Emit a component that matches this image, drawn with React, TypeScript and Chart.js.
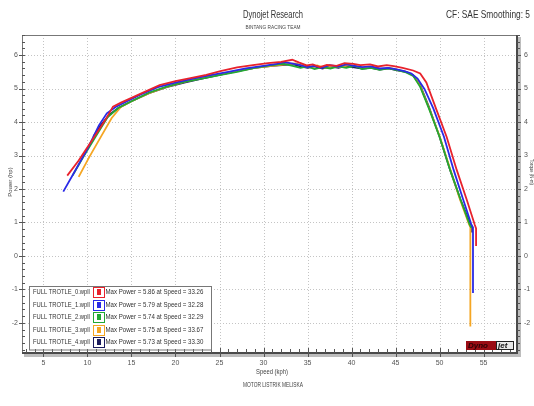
import { useEffect, useRef } from "react";
import { Chart, registerables } from "chart.js";

Chart.register(...registerables);

const FONT = '"Liberation Sans", "DejaVu Sans", sans-serif';

const seriesNames = [
  "FULL TROTLE_0.wpll",
  "FULL TROTLE_1.wpll",
  "FULL TROTLE_2.wpll",
  "FULL TROTLE_3.wpll",
  "FULL TROTLE_4.wpll",
];
const seriesColors = ["#e8222c", "#2a2ae6", "#22a833", "#f5a623", "#1c1c5e"];
const maxPower = [5.86, 5.79, 5.74, 5.75, 5.73];
const maxSpeed = [33.26, 32.28, 32.29, 33.67, 33.3];

const xTicks = [5, 10, 15, 20, 25, 30, 35, 40, 45, 50, 55];
const yTicks = [-2, -1, 0, 1, 2, 3, 4, 5, 6];

const speed0 = [7.7, 9.0, 10.5, 12.0, 12.9, 13.8, 15.0, 16.5, 18.2, 20.0, 21.7, 23.5, 25.1, 27.0, 28.8, 30.5, 32.0, 33.26, 34.0, 34.9, 35.6, 36.4, 37.2, 38.3, 39.2, 40.2, 41.0, 42.1, 43.0, 44.0, 44.8, 45.8, 47.0, 47.8, 48.5, 49.6, 50.8, 51.95, 53.1, 54.0, 54.15, 54.15];
const power0 = [2.4, 2.85, 3.45, 4.05, 4.46, 4.58, 4.72, 4.9, 5.1, 5.22, 5.31, 5.41, 5.52, 5.63, 5.7, 5.76, 5.8, 5.86, 5.78, 5.69, 5.72, 5.64, 5.71, 5.68, 5.76, 5.74, 5.7, 5.72, 5.66, 5.7, 5.67, 5.62, 5.54, 5.45, 5.18, 4.4, 3.56, 2.57, 1.67, 0.93, 0.82, 0.3];

const speed1 = [7.25, 8.5, 10.0, 11.3, 12.2, 13.2, 14.5, 16.0, 18.0, 20.0, 22.0, 24.0, 26.0, 28.0, 30.0, 31.5, 32.28, 33.2, 34.2, 35.0, 35.8, 36.6, 37.5, 38.5, 39.4, 40.3, 41.2, 42.2, 43.2, 44.2, 45.0, 46.0, 46.8, 47.5, 48.3, 49.3, 50.5, 51.6, 52.7, 53.6, 53.8, 53.8];
const power1 = [1.92, 2.5, 3.2, 3.9, 4.26, 4.45, 4.62, 4.82, 5.04, 5.18, 5.3, 5.4, 5.5, 5.6, 5.68, 5.74, 5.79, 5.75, 5.7, 5.64, 5.68, 5.62, 5.7, 5.66, 5.72, 5.68, 5.64, 5.66, 5.6, 5.62, 5.58, 5.52, 5.45, 5.3, 4.98, 4.4, 3.56, 2.57, 1.67, 0.95, 0.85, -1.11];

const speed2 = [8.3, 9.5, 11.0, 12.3, 13.5, 15.0, 17.0, 19.0, 21.0, 23.0, 25.0, 27.0, 29.0, 30.8, 32.29, 33.3, 34.2, 35.0, 35.8, 36.7, 37.6, 38.5, 39.4, 40.3, 41.2, 42.2, 43.2, 44.2, 45.2, 46.2, 47.0, 47.8, 48.8, 50.0, 51.2, 52.4, 53.4, 53.6];
const power2 = [2.4, 2.95, 3.6, 4.15, 4.42, 4.62, 4.88, 5.06, 5.2, 5.3, 5.4, 5.5, 5.62, 5.69, 5.74, 5.68, 5.62, 5.66, 5.58, 5.64, 5.6, 5.66, 5.62, 5.68, 5.58, 5.62, 5.56, 5.6, 5.55, 5.48, 5.38, 5.05, 4.4, 3.56, 2.57, 1.67, 0.95, 0.84];

const speed3 = [9.0, 10.2, 11.5, 12.75, 13.8, 15.0, 17.0, 19.0, 21.0, 23.0, 25.0, 27.0, 29.0, 31.0, 32.5, 33.67, 34.5, 35.3, 36.1, 37.0, 37.9, 38.8, 39.7, 40.6, 41.5, 42.4, 43.3, 44.3, 45.3, 46.2, 47.0, 47.8, 48.8, 50.0, 51.2, 52.3, 53.3, 53.5, 53.5];
const power3 = [2.36, 2.95, 3.55, 4.12, 4.45, 4.62, 4.86, 5.05, 5.2, 5.32, 5.42, 5.52, 5.62, 5.68, 5.72, 5.75, 5.68, 5.63, 5.69, 5.62, 5.67, 5.64, 5.7, 5.66, 5.62, 5.65, 5.58, 5.62, 5.56, 5.5, 5.4, 5.08, 4.42, 3.58, 2.6, 1.7, 0.98, 0.85, -2.11];

const speed4 = [10.66, 11.5, 12.5, 13.5, 15.0, 17.0, 19.0, 21.0, 23.0, 25.0, 27.0, 29.0, 31.0, 32.5, 33.3, 34.2, 35.0, 35.8, 36.7, 37.6, 38.5, 39.4, 40.3, 41.2, 42.2, 43.2, 44.2, 45.2, 46.2, 47.0, 47.8, 48.8, 50.0, 51.2, 52.4, 53.5, 53.7, 53.7];
const power4 = [3.56, 3.9, 4.22, 4.42, 4.62, 4.86, 5.04, 5.18, 5.3, 5.41, 5.52, 5.62, 5.68, 5.71, 5.73, 5.66, 5.62, 5.66, 5.6, 5.66, 5.62, 5.68, 5.63, 5.6, 5.62, 5.57, 5.6, 5.54, 5.5, 5.4, 5.1, 4.45, 3.56, 2.57, 1.67, 0.95, 0.85, 0.7];

const speeds = [speed0, speed1, speed2, speed3, speed4];
const powers = [power0, power1, power2, power3, power4];

function txt(ctx: CanvasRenderingContext2D, s: string, x: number, y: number, size: number, align: CanvasTextAlign, color: string, maxW?: number, weight = "normal") {
  ctx.save();
  ctx.font = `${weight} ${size}px ${FONT}`;
  ctx.fillStyle = color;
  ctx.textAlign = align;
  ctx.textBaseline = "middle";
  if (maxW) ctx.fillText(s, x, y, maxW);
  else ctx.fillText(s, x, y);
  ctx.restore();
}

const decor = {
  id: "decor",
  beforeDatasetsDraw(chart: any) {
    const { ctx, chartArea: a, scales } = chart;
    ctx.save();
    ctx.strokeStyle = "#c4c4c4";
    ctx.lineWidth = 1;
    ctx.setLineDash([1, 2]);
    for (const v of xTicks) {
      const px = Math.round(scales.x.getPixelForValue(v)) + 0.5;
      ctx.beginPath();
      ctx.moveTo(px, a.top);
      ctx.lineTo(px, a.bottom);
      ctx.stroke();
    }
    for (const v of yTicks) {
      const py = Math.round(scales.y.getPixelForValue(v)) + 0.5;
      ctx.beginPath();
      ctx.moveTo(a.left, py);
      ctx.lineTo(a.right, py);
      ctx.stroke();
    }
    ctx.restore();
  },
  afterDatasetsDraw(chart: any) {
    const { ctx, chartArea: a, scales } = chart;
    ctx.save();
    // frame shadow
    ctx.fillStyle = "#bdbdbd";
    ctx.fillRect(a.right + 1, a.top + 2, 3, a.bottom - a.top + 2);
    ctx.fillRect(a.left + 2, a.bottom + 1, a.right - a.left + 2, 3);
    // top and left
    ctx.strokeStyle = "#777";
    ctx.lineWidth = 1;
    ctx.beginPath();
    ctx.moveTo(a.left + 0.5, a.bottom);
    ctx.lineTo(a.left + 0.5, a.top + 0.5);
    ctx.lineTo(a.right, a.top + 0.5);
    ctx.stroke();
    // right and bottom heavy
    ctx.strokeStyle = "#4a4a4a";
    ctx.lineWidth = 2;
    ctx.beginPath();
    ctx.moveTo(a.right, a.top);
    ctx.lineTo(a.right, a.bottom);
    ctx.lineTo(a.left, a.bottom);
    ctx.stroke();
    // ticks
    ctx.lineWidth = 1;
    ctx.strokeStyle = "#555";
    ctx.beginPath();
    for (let i = -14; i <= 33; i++) {
      const v = i / 5;
      if (v < scales.y.min || v > scales.y.max) continue;
      const py = Math.round(scales.y.getPixelForValue(v)) + 0.5;
      const major = i % 5 === 0;
      ctx.moveTo(a.left, py);
      ctx.lineTo(a.left + 3, py);
      if (major) {
        ctx.moveTo(a.left - 3, py);
        ctx.lineTo(a.left, py);
      }
      ctx.moveTo(a.right, py);
      ctx.lineTo(a.right + (major ? 4 : 3), py);
    }
    for (let v = 3; v <= 58; v++) {
      const px = Math.round(scales.x.getPixelForValue(v)) + 0.5;
      const major = v % 5 === 0;
      ctx.moveTo(px, a.bottom);
      ctx.lineTo(px, a.bottom - (major ? 5 : 4));
      if (major) {
        ctx.moveTo(px, a.bottom);
        ctx.lineTo(px, a.bottom + 4);
      }
    }
    ctx.stroke();

    // legend box
    const lx = scales.x.getPixelForValue(3.4);
    const lw = 182;
    const rowH = 12.5;
    const ly = a.bottom - 5 * rowH - 5;
    ctx.fillStyle = "#fff";
    ctx.fillRect(lx, ly, lw, 5 * rowH + 1);
    ctx.strokeStyle = "#777";
    ctx.strokeRect(Math.round(lx) + 0.5, Math.round(ly) + 0.5, lw, 5 * rowH + 1);
    for (let i = 0; i < 5; i++) {
      const cy = ly + rowH * i + rowH / 2 + 0.5;
      txt(ctx, seriesNames[i], lx + 3.5, cy, 8, "left", "#333", 57);
      const sx = lx + 63.5;
      ctx.strokeStyle = seriesColors[i];
      ctx.lineWidth = 1;
      ctx.strokeRect(Math.round(sx) + 0.5, Math.round(cy - 5) + 0.5, 11, 10);
      ctx.fillStyle = seriesColors[i];
      ctx.fillRect(Math.round(sx) + 4, Math.round(cy - 3), 4, 6);
      txt(
        ctx,
        `Max Power = ${maxPower[i].toFixed(2)} at Speed = ${maxSpeed[i].toFixed(2)}`,
        lx + 76,
        cy,
        8,
        "left",
        "#333",
        98
      );
    }

    // logo
    const gx = a.right - 51;
    const gy = a.bottom - 12;
    ctx.fillStyle = "#9a0c14";
    ctx.fillRect(gx, gy, 30, 9);
    ctx.fillStyle = "#e9e9e9";
    ctx.fillRect(gx + 30, gy, 18, 9);
    ctx.strokeStyle = "#222";
    ctx.strokeRect(gx + 30.5, gy + 0.5, 17, 8);
    ctx.font = `italic bold 8px ${FONT}`;
    ctx.textBaseline = "middle";
    ctx.textAlign = "left";
    ctx.fillStyle = "#2a0004";
    ctx.fillText("Dyno", gx + 2, gy + 5, 27);
    ctx.fillStyle = "#111";
    ctx.fillText("jet", gx + 32, gy + 5, 15);
    ctx.restore();
  },
  afterDraw(chart: any) {
    const { ctx } = chart;
    txt(ctx, "Dynojet Research", 273, 15, 11, "center", "#333", 60);
    txt(ctx, "BINTANG RACING TEAM", 273, 27, 6, "center", "#444", 55);
    txt(ctx, "CF: SAE Smoothing: 5", 530, 15, 11, "right", "#333", 84);
    txt(ctx, "Speed (kph)", 272, 372, 7, "center", "#444", 32);
    txt(ctx, "MOTOR LISTRIK MELISKA", 273, 385, 7, "center", "#444", 60);
    ctx.save();
    ctx.translate(10, 182);
    ctx.rotate(-Math.PI / 2);
    txt(ctx, "Power (hp)", 0, 0, 6, "center", "#444", 30);
    ctx.restore();
    ctx.save();
    ctx.translate(531, 172);
    ctx.rotate(Math.PI / 2);
    txt(ctx, "Torque (N-m)", 0, 0, 5, "center", "#444", 26);
    ctx.restore();
  },
};

export default function App() {
  const ref = useRef<HTMLCanvasElement | null>(null);
  useEffect(() => {
    document.body.style.margin = "0";
    const canvas = ref.current;
    if (!canvas) return;
    const tickFont = { family: FONT, size: 7 };
    const gridOff = { display: false, drawTicks: false };
    const chart = new Chart(canvas, {
      type: "scatter",
      data: {
        datasets: speeds.map((sp, i) => ({
          label: seriesNames[i],
          data: sp.map((x, j) => ({ x, y: powers[i][j] })),
          showLine: true,
          borderColor: seriesColors[i],
          backgroundColor: seriesColors[i],
          borderWidth: 1.8,
          pointRadius: 0,
          tension: 0,
        })),
      },
      options: {
        animation: false,
        responsive: false,
        devicePixelRatio: 1,
        layout: { padding: { top: 35, left: 0, right: 0, bottom: 0 } },
        plugins: { legend: { display: false }, tooltip: { enabled: false } },
        scales: {
          x: {
            type: "linear",
            min: 2.56,
            max: 58.8,
            grid: gridOff,
            border: { display: false },
            ticks: {
              stepSize: 5,
              includeBounds: false,
              autoSkip: false,
              maxRotation: 0,
              font: tickFont,
              color: "#555",
              padding: 6,
            },
            afterFit: (s: any) => {
              s.height = 53;
            },
          },
          y: {
            position: "left",
            min: -2.9,
            max: 6.6,
            grid: gridOff,
            border: { display: false },
            ticks: { stepSize: 1, includeBounds: false, font: tickFont, color: "#555", padding: 4 },
            afterFit: (s: any) => {
              s.width = 22;
            },
          },
          y2: {
            position: "right",
            min: -2.9,
            max: 6.6,
            grid: gridOff,
            border: { display: false },
            ticks: { stepSize: 1, includeBounds: false, font: tickFont, color: "#555", padding: 7 },
            afterFit: (s: any) => {
              s.width = 17;
            },
          },
        },
      } as any,
      plugins: [decor],
    });
    return () => chart.destroy();
  }, []);
  return (
    <div style={{ position: "absolute", left: 0, top: 0, width: 534, height: 406, background: "#fff" }}>
      <canvas ref={ref} width={534} height={406} style={{ display: "block" }} />
    </div>
  );
}
